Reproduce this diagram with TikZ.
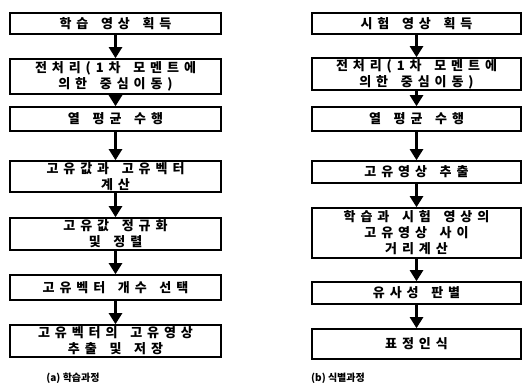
\documentclass[tikz,border=0pt]{standalone}
\usepackage{fontspec}
\newfontfamily\krfont[LetterSpace=38, WordSpace=1.6]{Noto Sans CJK KR}
\newfontfamily\capfont{Noto Sans CJK KR}
\usetikzlibrary{arrows.meta}
\begin{document}
\begin{tikzpicture}[x=1bp, y=-1bp,
  stage/.style={draw, line width=1.6bp, align=center, inner sep=0pt,
    font=\krfont\bfseries\fontsize{13bp}{16bp}\selectfont},
  lbox/.style={stage, minimum width=211bp},
  rbox/.style={stage, minimum width=209bp},
  flow/.style={line width=2.4bp, -{Triangle[width=13bp,length=11bp]}},
  caption/.style={font=\capfont\bfseries\fontsize{10bp}{12bp}\selectfont}]
	\useasboundingbox (0,0) rectangle (522,388);
	\node[lbox, minimum height=21bp] (l1) at (115.5,23.5) {학습 영상 획득};
	\node[lbox, minimum height=35bp] (l2) at (115.5,76.5) {전처리(1차 모멘트에\\의한 중심이동)};
	\node[lbox, minimum height=24bp] (l3) at (115.5,119) {열 평균 수행};
	\node[lbox, minimum height=31bp] (l4) at (115.5,176.5) {고유값과 고유벡터\\계산};
	\node[lbox, minimum height=32bp] (l5) at (115.5,234) {고유값 정규화\\및 정렬};
	\node[lbox, minimum height=25bp] (l6) at (115.5,287.5) {고유벡터 개수 선택};
	\node[lbox, minimum height=32bp] (l7) at (115.5,341) {고유벡터의 고유영상\\추출 및 저장};
	\node[caption] (capa) at (73,378) {(a) 학습과정};
	\node[rbox, minimum height=21bp] (r1) at (416.5,23.5) {시험 영상 획득};
	\node[rbox, minimum height=32bp] (r2) at (416.5,74) {전처리(1차 모멘트에\\의한 중심이동)};
	\node[rbox, minimum height=24bp] (r3) at (416.5,119) {열 평균 수행};
	\node[rbox, minimum height=22bp] (r4) at (416.5,172) {고유영상 추출};
	\node[rbox, minimum height=50bp] (r5) at (416.5,233) {학습과 시험 영상의\\고유영상 사이\\거리계산};
	\node[rbox, minimum height=22bp] (r6) at (416.5,293) {유사성 판별};
	\node[rbox, minimum height=30bp] (r7) at (416.5,344) {표정인식};
	\node[caption] (capb) at (338,378) {(b) 식별과정};
	\foreach \a/\b in {l1/l2, l2/l3, l3/l4, l4/l5, l5/l6, l6/l7, r1/r2, r2/r3, r3/r4, r4/r5, r5/r6, r6/r7}
		\draw[flow] (\a) -- (\b);
\end{tikzpicture}
\end{document}
